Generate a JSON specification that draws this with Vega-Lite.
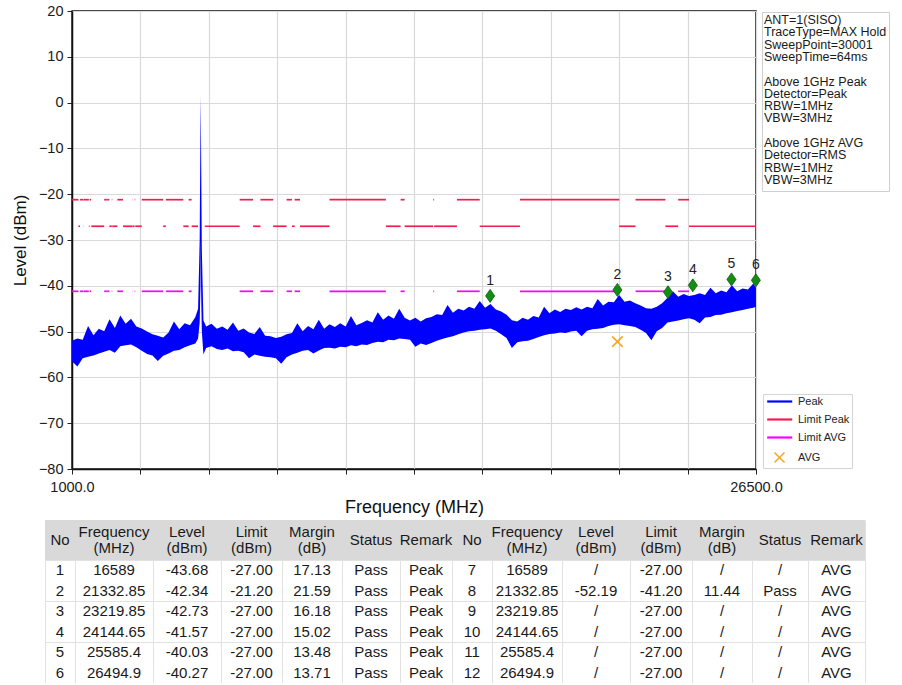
{
  "$schema": "https://vega.github.io/schema/vega-lite/v6.json",
  "padding": {"left": 10, "top": 2, "right": 0, "bottom": 0},
  "background": "white",
  "spacing": 2,
  "config": {"font": "Liberation Sans", "view": {"stroke": null}},
  "resolve": {"scale": {"x": "independent", "y": "independent"}, "legend": {"color": "independent", "shape": "independent"}},
  "datasets": {
    "trace": [
      {"f":1000,"lo":-56.5,"hi":-52.0},{"f":1200,"lo":-57.6,"hi":-51.5},{"f":1400,"lo":-55.8,"hi":-51.8},{"f":1600,"lo":-55.5,"hi":-48.8},
      {"f":1800,"lo":-55.2,"hi":-50.8},{"f":2000,"lo":-54.8,"hi":-49.4},{"f":2200,"lo":-54.4,"hi":-49.9},{"f":2400,"lo":-54.0,"hi":-47.3},
      {"f":2600,"lo":-54.6,"hi":-49.2},{"f":2800,"lo":-53.2,"hi":-46.5},{"f":3000,"lo":-53.0,"hi":-48.3},{"f":3200,"lo":-52.8,"hi":-47.2},
      {"f":3400,"lo":-53.4,"hi":-48.9},{"f":3600,"lo":-54.2,"hi":-49.3},{"f":3800,"lo":-54.9,"hi":-50.0},{"f":4000,"lo":-55.2,"hi":-50.6},
      {"f":4200,"lo":-56.4,"hi":-50.9},{"f":4400,"lo":-55.3,"hi":-51.3},{"f":4600,"lo":-54.8,"hi":-50.2},{"f":4800,"lo":-54.2,"hi":-47.8},
      {"f":5000,"lo":-54.0,"hi":-49.5},{"f":5200,"lo":-53.4,"hi":-48.2},{"f":5400,"lo":-53.0,"hi":-48.6},{"f":5600,"lo":-52.6,"hi":-46.8},
      {"f":5700,"lo":-51.5,"hi":-45.0},{"f":5760,"lo":-48.0,"hi":-30.0},{"f":5790,"lo":-40.0,"hi":-5.0},{"f":5800,"lo":-30.0,"hi":1.5},
      {"f":5810,"lo":-40.0,"hi":-8.0},{"f":5840,"lo":-50.0,"hi":-32.0},{"f":5900,"lo":-55.0,"hi":-47.5},
      {"f":6000,"lo":-53.6,"hi":-48.9},{"f":6200,"lo":-53.2,"hi":-48.3},{"f":6400,"lo":-53.8,"hi":-49.4},{"f":6600,"lo":-54.0,"hi":-48.9},
      {"f":6800,"lo":-53.7,"hi":-49.6},{"f":7000,"lo":-54.3,"hi":-48.0},{"f":7200,"lo":-54.2,"hi":-49.8},{"f":7400,"lo":-54.5,"hi":-49.3},
      {"f":7600,"lo":-55.8,"hi":-50.2},{"f":7800,"lo":-55.0,"hi":-50.5},{"f":8000,"lo":-55.3,"hi":-49.0},{"f":8200,"lo":-55.5,"hi":-50.9},
      {"f":8400,"lo":-55.6,"hi":-51.0},{"f":8600,"lo":-55.8,"hi":-51.4},{"f":8800,"lo":-57.0,"hi":-51.1},{"f":9000,"lo":-55.6,"hi":-50.6},
      {"f":9200,"lo":-55.0,"hi":-50.3},{"f":9400,"lo":-54.6,"hi":-48.2},{"f":9600,"lo":-54.2,"hi":-49.9},{"f":9800,"lo":-54.0,"hi":-48.8},
      {"f":10000,"lo":-54.8,"hi":-49.5},{"f":10200,"lo":-54.1,"hi":-47.4},{"f":10400,"lo":-53.6,"hi":-49.4},{"f":10600,"lo":-53.5,"hi":-48.4},
      {"f":10800,"lo":-53.7,"hi":-49.0},{"f":11000,"lo":-53.3,"hi":-48.2},{"f":11200,"lo":-53.4,"hi":-48.9},{"f":11400,"lo":-53.0,"hi":-46.6},
      {"f":11600,"lo":-53.2,"hi":-48.6},{"f":11800,"lo":-52.8,"hi":-48.1},{"f":12000,"lo":-52.9,"hi":-47.5},{"f":12200,"lo":-52.5,"hi":-48.0},
      {"f":12400,"lo":-52.2,"hi":-45.8},{"f":12600,"lo":-52.3,"hi":-47.4},{"f":12800,"lo":-51.8,"hi":-46.5},{"f":13000,"lo":-51.9,"hi":-47.2},
      {"f":13200,"lo":-51.5,"hi":-45.0},{"f":13400,"lo":-51.6,"hi":-47.0},{"f":13600,"lo":-51.8,"hi":-47.6},{"f":13800,"lo":-53.3,"hi":-47.0},
      {"f":14000,"lo":-52.6,"hi":-47.8},{"f":14200,"lo":-52.9,"hi":-47.1},{"f":14400,"lo":-52.5,"hi":-46.8},{"f":14600,"lo":-52.0,"hi":-46.2},
      {"f":14800,"lo":-51.6,"hi":-46.4},{"f":15000,"lo":-51.3,"hi":-44.2},{"f":15200,"lo":-51.0,"hi":-45.9},{"f":15400,"lo":-50.6,"hi":-45.0},
      {"f":15600,"lo":-50.2,"hi":-45.4},{"f":15800,"lo":-49.9,"hi":-44.6},{"f":16000,"lo":-49.8,"hi":-45.0},{"f":16200,"lo":-49.6,"hi":-43.3},
      {"f":16400,"lo":-49.5,"hi":-44.8},{"f":16600,"lo":-49.3,"hi":-44.0},{"f":16800,"lo":-49.8,"hi":-45.2},{"f":17000,"lo":-50.6,"hi":-45.6},
      {"f":17200,"lo":-51.4,"hi":-46.3},{"f":17400,"lo":-53.6,"hi":-47.5},{"f":17600,"lo":-52.3,"hi":-47.8},{"f":17800,"lo":-52.1,"hi":-47.0},
      {"f":18000,"lo":-52.0,"hi":-47.4},{"f":18200,"lo":-51.6,"hi":-46.6},{"f":18400,"lo":-51.2,"hi":-46.9},{"f":18600,"lo":-50.8,"hi":-44.6},
      {"f":18800,"lo":-50.5,"hi":-46.0},{"f":19000,"lo":-50.4,"hi":-45.2},{"f":19200,"lo":-50.2,"hi":-45.7},{"f":19400,"lo":-50.3,"hi":-45.0},
      {"f":19600,"lo":-50.0,"hi":-45.3},{"f":19800,"lo":-49.8,"hi":-44.7},{"f":20000,"lo":-51.0,"hi":-45.2},{"f":20200,"lo":-49.8,"hi":-44.6},
      {"f":20400,"lo":-49.5,"hi":-44.9},{"f":20600,"lo":-49.4,"hi":-42.9},{"f":20800,"lo":-49.2,"hi":-44.3},{"f":21000,"lo":-48.8,"hi":-43.5},
      {"f":21200,"lo":-48.5,"hi":-43.6},{"f":21400,"lo":-48.4,"hi":-42.0},{"f":21600,"lo":-48.6,"hi":-43.5},{"f":21800,"lo":-48.8,"hi":-43.2},
      {"f":22000,"lo":-49.0,"hi":-43.8},{"f":22200,"lo":-49.6,"hi":-44.3},{"f":22400,"lo":-50.3,"hi":-44.9},{"f":22600,"lo":-51.9,"hi":-45.0},
      {"f":22800,"lo":-49.9,"hi":-44.6},{"f":23000,"lo":-49.2,"hi":-43.8},{"f":23200,"lo":-48.0,"hi":-42.6},{"f":23400,"lo":-47.8,"hi":-41.2},
      {"f":23600,"lo":-47.6,"hi":-42.4},{"f":23800,"lo":-47.3,"hi":-41.8},{"f":24000,"lo":-47.1,"hi":-42.2},{"f":24200,"lo":-47.4,"hi":-42.0},
      {"f":24400,"lo":-48.2,"hi":-41.6},{"f":24600,"lo":-46.9,"hi":-42.0},{"f":24800,"lo":-46.8,"hi":-40.4},{"f":25000,"lo":-46.4,"hi":-41.6},
      {"f":25200,"lo":-46.3,"hi":-41.0},{"f":25400,"lo":-46.0,"hi":-41.4},{"f":25600,"lo":-45.8,"hi":-39.9},{"f":25800,"lo":-45.5,"hi":-41.2},
      {"f":26000,"lo":-45.3,"hi":-40.6},{"f":26200,"lo":-45.0,"hi":-40.8},{"f":26400,"lo":-44.8,"hi":-39.5},{"f":26500,"lo":-44.6,"hi":-40.5}
    ],
    "limits": [
      {"s":"Limit Peak","a":1000,"b":1240,"v":-21.2},{"s":"Limit Peak","a":1300,"b":1427,"v":-21.2},{"s":"Limit Peak","a":1435,"b":1626.5,"v":-21.2},
      {"s":"Limit Peak","a":1645.5,"b":1646.5,"v":-21.2},{"s":"Limit Peak","a":1660,"b":1710,"v":-21.2},{"s":"Limit Peak","a":1718.8,"b":1722.2,"v":-21.2},
      {"s":"Limit Peak","a":2200,"b":2300,"v":-21.2},{"s":"Limit Peak","a":2310,"b":2390,"v":-21.2},{"s":"Limit Peak","a":2483.5,"b":2500,"v":-21.2},
      {"s":"Limit Peak","a":2690,"b":2900,"v":-21.2},{"s":"Limit Peak","a":3260,"b":3267,"v":-21.2},{"s":"Limit Peak","a":3332,"b":3339,"v":-21.2},
      {"s":"Limit Peak","a":3345.8,"b":3358,"v":-21.2},{"s":"Limit Peak","a":3600,"b":4400,"v":-21.2},{"s":"Limit Peak","a":4500,"b":5150,"v":-21.2},
      {"s":"Limit Peak","a":5350,"b":5460,"v":-21.2},{"s":"Limit Peak","a":7250,"b":7750,"v":-21.2},{"s":"Limit Peak","a":8025,"b":8500,"v":-21.2},
      {"s":"Limit Peak","a":9000,"b":9200,"v":-21.2},{"s":"Limit Peak","a":9300,"b":9500,"v":-21.2},{"s":"Limit Peak","a":10600,"b":12700,"v":-21.2},
      {"s":"Limit Peak","a":13250,"b":13400,"v":-21.2},{"s":"Limit Peak","a":14470,"b":14500,"v":-21.2},{"s":"Limit Peak","a":15350,"b":16200,"v":-21.2},
      {"s":"Limit Peak","a":17700,"b":21400,"v":-21.2},{"s":"Limit Peak","a":22010,"b":23120,"v":-21.2},{"s":"Limit Peak","a":23600,"b":24000,"v":-21.2},
      {"s":"Limit Peak","a":1240,"b":1300,"v":-27},{"s":"Limit Peak","a":1427,"b":1435,"v":-27},{"s":"Limit Peak","a":1626.5,"b":1645.5,"v":-27},
      {"s":"Limit Peak","a":1646.5,"b":1660,"v":-27},{"s":"Limit Peak","a":1710,"b":1718.8,"v":-27},{"s":"Limit Peak","a":1722.2,"b":2200,"v":-27},
      {"s":"Limit Peak","a":2300,"b":2310,"v":-27},{"s":"Limit Peak","a":2390,"b":2483.5,"v":-27},{"s":"Limit Peak","a":2500,"b":2690,"v":-27},
      {"s":"Limit Peak","a":2900,"b":3260,"v":-27},{"s":"Limit Peak","a":3267,"b":3332,"v":-27},{"s":"Limit Peak","a":3339,"b":3345.8,"v":-27},
      {"s":"Limit Peak","a":3358,"b":3600,"v":-27},{"s":"Limit Peak","a":4400,"b":4500,"v":-27},{"s":"Limit Peak","a":5150,"b":5350,"v":-27},
      {"s":"Limit Peak","a":5460,"b":5700,"v":-27},{"s":"Limit Peak","a":5950,"b":7250,"v":-27},{"s":"Limit Peak","a":7750,"b":8025,"v":-27},
      {"s":"Limit Peak","a":8500,"b":9000,"v":-27},{"s":"Limit Peak","a":9200,"b":9300,"v":-27},{"s":"Limit Peak","a":9500,"b":10600,"v":-27},
      {"s":"Limit Peak","a":12700,"b":13250,"v":-27},{"s":"Limit Peak","a":13400,"b":14470,"v":-27},{"s":"Limit Peak","a":14500,"b":15350,"v":-27},
      {"s":"Limit Peak","a":16200,"b":17700,"v":-27},{"s":"Limit Peak","a":21400,"b":22010,"v":-27},{"s":"Limit Peak","a":23120,"b":23600,"v":-27},
      {"s":"Limit Peak","a":24000,"b":26500,"v":-27},
      {"s":"Limit AVG","a":1000,"b":1240,"v":-41.2},{"s":"Limit AVG","a":1300,"b":1427,"v":-41.2},{"s":"Limit AVG","a":1435,"b":1626.5,"v":-41.2},
      {"s":"Limit AVG","a":1645.5,"b":1646.5,"v":-41.2},{"s":"Limit AVG","a":1660,"b":1710,"v":-41.2},{"s":"Limit AVG","a":1718.8,"b":1722.2,"v":-41.2},
      {"s":"Limit AVG","a":2200,"b":2300,"v":-41.2},{"s":"Limit AVG","a":2310,"b":2390,"v":-41.2},{"s":"Limit AVG","a":2483.5,"b":2500,"v":-41.2},
      {"s":"Limit AVG","a":2690,"b":2900,"v":-41.2},{"s":"Limit AVG","a":3260,"b":3267,"v":-41.2},{"s":"Limit AVG","a":3332,"b":3339,"v":-41.2},
      {"s":"Limit AVG","a":3345.8,"b":3358,"v":-41.2},{"s":"Limit AVG","a":3600,"b":4400,"v":-41.2},{"s":"Limit AVG","a":4500,"b":5150,"v":-41.2},
      {"s":"Limit AVG","a":5350,"b":5460,"v":-41.2},{"s":"Limit AVG","a":7250,"b":7750,"v":-41.2},{"s":"Limit AVG","a":8025,"b":8500,"v":-41.2},
      {"s":"Limit AVG","a":9000,"b":9200,"v":-41.2},{"s":"Limit AVG","a":9300,"b":9500,"v":-41.2},{"s":"Limit AVG","a":10600,"b":12700,"v":-41.2},
      {"s":"Limit AVG","a":13250,"b":13400,"v":-41.2},{"s":"Limit AVG","a":14470,"b":14500,"v":-41.2},{"s":"Limit AVG","a":15350,"b":16200,"v":-41.2},
      {"s":"Limit AVG","a":17700,"b":21400,"v":-41.2},{"s":"Limit AVG","a":22010,"b":23120,"v":-41.2},{"s":"Limit AVG","a":23600,"b":24000,"v":-41.2}
    ],
    "markers": [
      {"n":"1","f":16589,"lv":-42.2},{"n":"2","f":21332.85,"lv":-40.9},{"n":"3","f":23219.85,"lv":-41.4},
      {"n":"4","f":24144.65,"lv":-39.9},{"n":"5","f":25585.4,"lv":-38.6},{"n":"6","f":26494.9,"lv":-38.8}
    ],
    "avg": [{"f":21332.85,"lv":-52.19}],
    "info": [{"k":" "}],
    "head1": [
      {"r":0,"c":0,"t":"No"},{"r":0,"c":5,"t":"Status"},{"r":0,"c":6,"t":"Remark"},
      {"r":0,"c":7,"t":"No"},{"r":0,"c":12,"t":"Status"},{"r":0,"c":13,"t":"Remark"}
    ],
    "head2": [
      {"r":0,"c":1,"t":"Frequency\n(MHz)"},{"r":0,"c":2,"t":"Level\n(dBm)"},{"r":0,"c":3,"t":"Limit\n(dBm)"},{"r":0,"c":4,"t":"Margin\n(dB)"},
      {"r":0,"c":8,"t":"Frequency\n(MHz)"},{"r":0,"c":9,"t":"Level\n(dBm)"},{"r":0,"c":10,"t":"Limit\n(dBm)"},{"r":0,"c":11,"t":"Margin\n(dB)"}
    ],
    "cells": [
      {"r":1,"c":0,"t":"1"},{"r":1,"c":1,"t":"16589"},{"r":1,"c":2,"t":"-43.68"},{"r":1,"c":3,"t":"-27.00"},{"r":1,"c":4,"t":"17.13"},{"r":1,"c":5,"t":"Pass"},{"r":1,"c":6,"t":"Peak"},
      {"r":1,"c":7,"t":"7"},{"r":1,"c":8,"t":"16589"},{"r":1,"c":9,"t":"/"},{"r":1,"c":10,"t":"-27.00"},{"r":1,"c":11,"t":"/"},{"r":1,"c":12,"t":"/"},{"r":1,"c":13,"t":"AVG"},
      {"r":2,"c":0,"t":"2"},{"r":2,"c":1,"t":"21332.85"},{"r":2,"c":2,"t":"-42.34"},{"r":2,"c":3,"t":"-21.20"},{"r":2,"c":4,"t":"21.59"},{"r":2,"c":5,"t":"Pass"},{"r":2,"c":6,"t":"Peak"},
      {"r":2,"c":7,"t":"8"},{"r":2,"c":8,"t":"21332.85"},{"r":2,"c":9,"t":"-52.19"},{"r":2,"c":10,"t":"-41.20"},{"r":2,"c":11,"t":"11.44"},{"r":2,"c":12,"t":"Pass"},{"r":2,"c":13,"t":"AVG"},
      {"r":3,"c":0,"t":"3"},{"r":3,"c":1,"t":"23219.85"},{"r":3,"c":2,"t":"-42.73"},{"r":3,"c":3,"t":"-27.00"},{"r":3,"c":4,"t":"16.18"},{"r":3,"c":5,"t":"Pass"},{"r":3,"c":6,"t":"Peak"},
      {"r":3,"c":7,"t":"9"},{"r":3,"c":8,"t":"23219.85"},{"r":3,"c":9,"t":"/"},{"r":3,"c":10,"t":"-27.00"},{"r":3,"c":11,"t":"/"},{"r":3,"c":12,"t":"/"},{"r":3,"c":13,"t":"AVG"},
      {"r":4,"c":0,"t":"4"},{"r":4,"c":1,"t":"24144.65"},{"r":4,"c":2,"t":"-41.57"},{"r":4,"c":3,"t":"-27.00"},{"r":4,"c":4,"t":"15.02"},{"r":4,"c":5,"t":"Pass"},{"r":4,"c":6,"t":"Peak"},
      {"r":4,"c":7,"t":"10"},{"r":4,"c":8,"t":"24144.65"},{"r":4,"c":9,"t":"/"},{"r":4,"c":10,"t":"-27.00"},{"r":4,"c":11,"t":"/"},{"r":4,"c":12,"t":"/"},{"r":4,"c":13,"t":"AVG"},
      {"r":5,"c":0,"t":"5"},{"r":5,"c":1,"t":"25585.4"},{"r":5,"c":2,"t":"-40.03"},{"r":5,"c":3,"t":"-27.00"},{"r":5,"c":4,"t":"13.48"},{"r":5,"c":5,"t":"Pass"},{"r":5,"c":6,"t":"Peak"},
      {"r":5,"c":7,"t":"11"},{"r":5,"c":8,"t":"25585.4"},{"r":5,"c":9,"t":"/"},{"r":5,"c":10,"t":"-27.00"},{"r":5,"c":11,"t":"/"},{"r":5,"c":12,"t":"/"},{"r":5,"c":13,"t":"AVG"},
      {"r":6,"c":0,"t":"6"},{"r":6,"c":1,"t":"26494.9"},{"r":6,"c":2,"t":"-40.27"},{"r":6,"c":3,"t":"-27.00"},{"r":6,"c":4,"t":"13.71"},{"r":6,"c":5,"t":"Pass"},{"r":6,"c":6,"t":"Peak"},
      {"r":6,"c":7,"t":"12"},{"r":6,"c":8,"t":"26494.9"},{"r":6,"c":9,"t":"/"},{"r":6,"c":10,"t":"-27.00"},{"r":6,"c":11,"t":"/"},{"r":6,"c":12,"t":"/"},{"r":6,"c":13,"t":"AVG"}
    ]
  },
  "vconcat": [
    {
      "width": 684,
      "height": 458,
      "view": {"stroke": "#111111", "strokeWidth": 1.5},
      "layer": [
        {
          "data": {"name": "limits"},
          "mark": {"type": "rule", "strokeWidth": 1.7},
          "encoding": {
            "x": {"field": "a", "type": "quantitative", "title": "Frequency (MHz)",
              "scale": {"domain": [1000, 26500], "nice": false, "zero": false},
              "axis": {"values": [1000, 3550, 6100, 8650, 11200, 13750, 16300, 18850, 21400, 23950, 26500],
                "labelExpr": "datum.value == 1000 || datum.value == 26500 ? format(datum.value, '.1f') : ''",
                "grid": true, "gridColor": "#d9d9d9", "gridWidth": 1.2, "tickSize": 5, "tickColor": "#222222",
                "domainColor": "#111111", "domainWidth": 1.5, "labelFontSize": 14.5, "labelColor": "#1a1a1a",
                "labelPadding": 6, "labelFlush": false, "labelOverlap": false,
                "titleFontSize": 18, "titleFontWeight": "normal", "titleColor": "#111111", "titlePadding": 5}},
            "x2": {"field": "b"},
            "y": {"field": "v", "type": "quantitative", "title": "Level (dBm)",
              "scale": {"domain": [-80, 20], "nice": false, "zero": false},
              "axis": {"values": [-80, -70, -60, -50, -40, -30, -20, -10, 0, 10, 20],
                "grid": true, "gridColor": "#d9d9d9", "gridWidth": 1.2, "tickSize": 5, "tickColor": "#222222",
                "domainColor": "#111111", "domainWidth": 1.5, "labelFontSize": 14.5, "labelColor": "#1a1a1a",
                "labelPadding": 4, "titleFontSize": 17, "titleFontWeight": "normal", "titleColor": "#111111", "titlePadding": 9}},
            "color": {"field": "s", "type": "nominal",
              "scale": {"domain": ["Peak", "Limit Peak", "Limit AVG", "AVG"], "range": ["#0000ff", "#f21d4f", "#ff00ff", "#f5a623"]},
              "legend": {"orient": "none", "legendX": 691, "legendY": 383, "title": null, "direction": "vertical",
                "symbolSize": 100, "labelFontSize": 11, "labelColor": "#222222", "labelOffset": 22,
                "padding": 2, "rowPadding": 6, "strokeColor": "#d4d4d4", "fillColor": "white",
                "encode": {"symbols": {"update": {
                  "shape": {"signal": "datum.value === 'AVG' ? 'M0.8,-1L2.8,1M0.8,1L2.8,-1' : 'M-0.66,0H4.34'"},
                  "stroke": {"signal": "datum.value === 'Peak' ? '#0000ff' : datum.value === 'Limit Peak' ? '#f21d4f' : datum.value === 'Limit AVG' ? '#ff00ff' : '#f5a623'"},
                  "strokeWidth": {"signal": "datum.value === 'AVG' ? 1.5 : 2.2"},
                  "fill": {"value": "transparent"},
                  "opacity": {"value": 1}}}}}}
          }
        },
        {
          "data": {"name": "trace"},
          "mark": {"type": "area", "opacity": 1},
          "encoding": {
            "x": {"field": "f", "type": "quantitative", "title": "Frequency (MHz)"},
            "y": {"field": "lo", "type": "quantitative", "title": "Level (dBm)"},
            "y2": {"field": "hi"},
            "color": {"datum": "Peak", "type": "nominal"}
          }
        },
        {
          "data": {"name": "avg"},
          "mark": {"type": "point", "filled": false, "shape": "M-1,-1L1,1M-1,1L1,-1", "size": 110, "strokeWidth": 1.6, "opacity": 1},
          "encoding": {
            "x": {"field": "f", "type": "quantitative", "title": "Frequency (MHz)"},
            "y": {"field": "lv", "type": "quantitative", "title": "Level (dBm)"},
            "color": {"datum": "AVG", "type": "nominal"}
          }
        },
        {
          "data": {"name": "markers"},
          "mark": {"type": "point", "filled": true, "shape": "M0,-1L0.7,0L0,1L-0.7,0Z", "size": 169, "fill": "#158c15", "stroke": "#0b600b", "strokeWidth": 0.8, "opacity": 1},
          "encoding": {
            "x": {"field": "f", "type": "quantitative", "title": "Frequency (MHz)"},
            "y": {"field": "lv", "type": "quantitative", "title": "Level (dBm)"}
          }
        },
        {
          "data": {"name": "markers"},
          "mark": {"type": "text", "fontSize": 14, "color": "#222222", "dy": -15, "baseline": "middle", "align": "center"},
          "encoding": {
            "x": {"field": "f", "type": "quantitative", "title": "Frequency (MHz)"},
            "y": {"field": "lv", "type": "quantitative", "title": "Level (dBm)"},
            "text": {"field": "n"}
          }
        },
        {
          "data": {"name": "info"},
          "mark": {"type": "point", "opacity": 0, "size": 0},
          "encoding": {
            "shape": {"field": "k", "type": "nominal",
              "scale": {"domain": [" "], "range": ["circle"]},
              "legend": {"orient": "none", "legendX": 690, "legendY": 1, "direction": "vertical",
                "title": ["ANT=1(SISO)", "TraceType=MAX Hold", "SweepPoint=30001", "SweepTime=64ms", "\u2800", "Above 1GHz Peak", "Detector=Peak", "RBW=1MHz", "VBW=3MHz", "\u2800", "Above 1GHz AVG", "Detector=RMS", "RBW=1MHz", "VBW=3MHz"],
                "titleFontSize": 12.5, "titleFontWeight": "normal", "titleColor": "#1a1a1a", "titleLineHeight": 12.3,
                "titlePadding": 0, "titleLimit": 300, "titleAnchor": "start",
                "symbolSize": 0, "symbolOpacity": 0, "symbolStrokeWidth": 0, "labelOffset": 0,
                "labelFontSize": 2, "labelOpacity": 0, "padding": 2,
                "strokeColor": "#cfcfcf", "fillColor": "white"}}
          }
        }
      ]
    },
    {
      "width": 793,
      "height": 163,
      "layer": [
        {
          "data": {"values": [{}]},
          "mark": {"type": "rect", "fill": "#d9d9d9"},
          "encoding": {
            "x": {"datum": -0.5, "type": "quantitative"},
            "x2": {"datum": 13.5},
            "y": {"datum": -0.5, "type": "quantitative"},
            "y2": {"datum": 0.5}
          }
        },
        {
          "data": {"name": "cells"},
          "mark": {"type": "text", "fontSize": 15, "color": "#1a1a1a", "baseline": "middle", "align": "center"},
          "encoding": {
            "x": {"field": "c", "type": "quantitative",
              "scale": {"domain": [-0.5, 0.5, 1.5, 2.5, 3.5, 4.5, 5.5, 6.5, 7.5, 8.5, 9.5, 10.5, 11.5, 12.5, 13.5],
                "range": [-27, 3, 81, 149, 210, 270, 328, 380, 420, 490, 558, 620, 680, 736, 793], "nice": false, "zero": false},
              "axis": {"orient": "top", "values": [-0.5, 0.5, 1.5, 2.5, 3.5, 4.5, 5.5, 6.5, 7.5, 8.5, 9.5, 10.5, 11.5, 12.5, 13.5],
                "grid": true, "gridColor": "#e2e2e2", "gridWidth": 1, "labels": false, "ticks": false, "domain": false, "title": null}},
            "y": {"field": "r", "type": "quantitative",
              "scale": {"domain": [-0.5, 0.5, 1.5, 2.5, 3.5, 4.5, 5.5, 6.5], "range": [0, 40, 60.5, 81, 101.5, 122, 142.5, 163], "nice": false, "zero": false},
              "axis": {"values": [0.5, 1.5, 2.5, 3.5, 4.5, 5.5, 6.5], "grid": true, "gridColor": "#e2e2e2", "gridWidth": 1,
                "labels": false, "ticks": false, "domain": false, "title": null}},
            "text": {"field": "t"}
          }
        },
        {
          "data": {"name": "head1"},
          "mark": {"type": "text", "fontSize": 15, "color": "#1a1a1a", "baseline": "middle", "align": "center"},
          "encoding": {
            "x": {"field": "c", "type": "quantitative"},
            "y": {"field": "r", "type": "quantitative"},
            "text": {"field": "t"}
          }
        },
        {
          "data": {"name": "head2"},
          "mark": {"type": "text", "fontSize": 15, "color": "#1a1a1a", "baseline": "middle", "align": "center", "lineBreak": "\n", "lineHeight": 16.5, "dy": -8.25},
          "encoding": {
            "x": {"field": "c", "type": "quantitative"},
            "y": {"field": "r", "type": "quantitative"},
            "text": {"field": "t"}
          }
        }
      ]
    }
  ]
}
